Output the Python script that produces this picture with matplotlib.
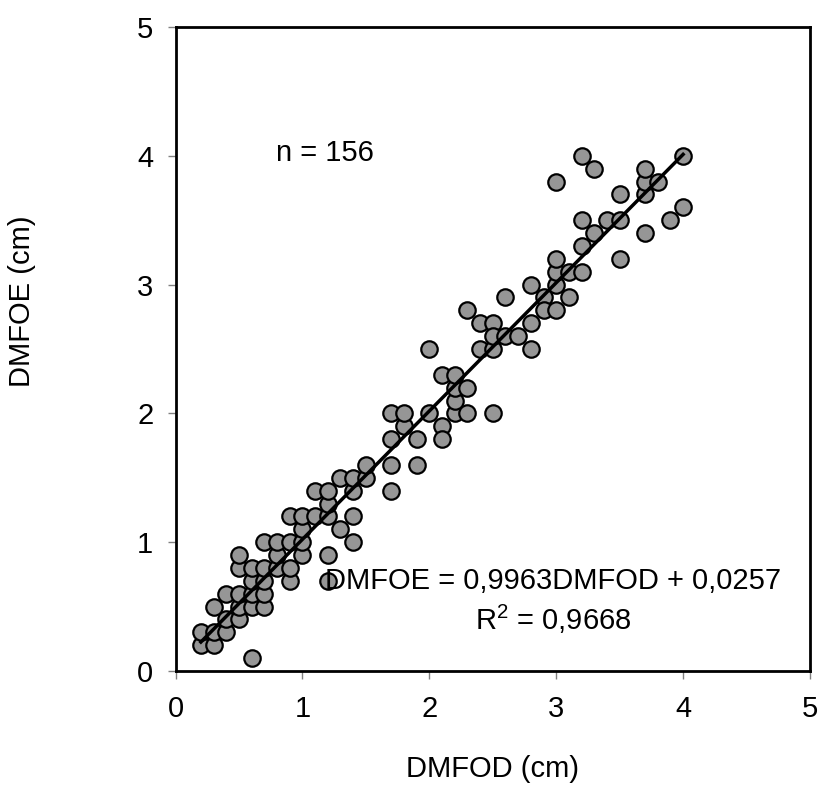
import matplotlib
matplotlib.use('Agg')
import matplotlib.pyplot as plt
import numpy as np

plt.rcParams['font.family'] = ['Liberation Sans', 'DejaVu Sans']
plt.rcParams['mathtext.fontset'] = 'custom'
plt.rcParams['mathtext.rm'] = 'Liberation Sans'

# DMFOD (x) / DMFOE (y) (overlapping points shown once)
dmfod = [0.6, 0.2, 0.3, 0.2, 0.3, 0.4, 0.4, 0.5, 0.3, 0.5, 0.6, 0.7,
         0.4, 0.5, 0.6, 0.7, 0.6, 0.7, 0.9, 1.2, 0.5, 0.6, 0.7, 0.8, 0.9,
         0.5, 0.8, 1.0, 1.2, 0.7, 0.8, 0.9, 1.0, 1.4, 1.0, 1.3,
         0.9, 1.0, 1.1, 1.2, 1.4, 1.2, 1.1, 1.2, 1.4, 1.7,
         1.3, 1.4, 1.5, 1.5, 1.7, 1.9, 1.7, 1.9, 1.8, 1.7, 1.8, 2.0, 2.1, 2.1,
         2.2, 2.3, 2.5, 2.2, 2.2, 2.3, 2.1, 2.2, 2.0,
         2.4, 2.5, 2.4, 2.5, 2.5, 2.6, 2.7, 2.8, 2.8, 2.3, 2.6, 2.8, 2.9, 2.9,
         3.0, 3.1, 3.0, 3.0, 3.0, 3.1, 3.2, 3.2, 3.3, 3.4, 3.2, 3.5, 3.5,
         3.5, 3.7, 3.7, 3.7, 3.8, 4.0, 3.0, 3.2, 3.3, 3.7, 3.9, 4.0]
dmfoe = [0.1, 0.2, 0.2, 0.3, 0.3, 0.3, 0.4, 0.4, 0.5, 0.5, 0.5, 0.5,
         0.6, 0.6, 0.6, 0.6, 0.7, 0.7, 0.7, 0.7, 0.8, 0.8, 0.8, 0.8, 0.8,
         0.9, 0.9, 0.9, 0.9, 1.0, 1.0, 1.0, 1.0, 1.0, 1.1, 1.1,
         1.2, 1.2, 1.2, 1.2, 1.2, 1.3, 1.4, 1.4, 1.4, 1.4,
         1.5, 1.5, 1.5, 1.6, 1.6, 1.6, 1.8, 1.8, 1.9, 2.0, 2.0, 2.0, 1.9, 1.8,
         2.0, 2.0, 2.0, 2.1, 2.2, 2.2, 2.3, 2.3, 2.5,
         2.5, 2.5, 2.7, 2.7, 2.6, 2.6, 2.6, 2.7, 2.5, 2.8, 2.9, 3.0, 2.9, 2.8,
         2.8, 2.9, 3.0, 3.1, 3.2, 3.1, 3.1, 3.3, 3.4, 3.5, 3.5, 3.5, 3.2,
         3.7, 3.7, 3.8, 3.9, 3.8, 4.0, 3.8, 4.0, 3.9, 3.4, 3.5, 3.6]

slope = 0.9963
intercept = 0.0257
fit_range = [0.2, 4.0]

n_label = 'n = 156'
eq_label = 'DMFOE = 0,9963DMFOD + 0,0257'
r2_label = r'$\mathregular{R^2}$ = 0,9668'


def main():
    W, H = 821, 785
    fig = plt.figure(figsize=(W / 100, H / 100), dpi=100)
    # axes box in pixels: left 175.5, right 810, top 27, bottom 671
    ax = fig.add_axes([175.5 / W, (H - 671) / H, (810 - 175.5) / W, (671 - 27) / H])

    ax.scatter(dmfod, dmfoe, s=140, facecolor='#969696', edgecolor='black',
               linewidth=1.6, zorder=2)

    fx = np.array(fit_range)
    ax.plot(fx, slope * fx + intercept, color='black', linewidth=2.5, zorder=3)

    ax.set_xlim(0, 5)
    ax.set_ylim(0, 5)
    ax.set_xticks(range(6))
    ax.set_yticks(range(6))
    for sp in ax.spines.values():
        sp.set_linewidth(2)
    ax.tick_params(axis='both', direction='out', length=6, width=1,
                   color='#808080', labelsize=21)
    ax.tick_params(axis='x', pad=11)
    ax.tick_params(axis='y', pad=10)

    ax.text(0.79, 3.96, n_label, fontsize=21, ha='left', va='baseline', zorder=4)
    ax.text(2.975, 0.637, eq_label, fontsize=21, ha='center', va='baseline', zorder=4)
    ax.text(2.975, 0.318, r2_label, fontsize=21, ha='center', va='baseline', zorder=4)

    fig.text(22.5 / W, 1 - 301 / H, 'DMFOE (cm)', rotation=90, fontsize=21,
             ha='center', va='center')
    fig.text(492 / W, 1 - 769 / H, 'DMFOD (cm)', fontsize=21,
             ha='center', va='center')

    fig.savefig('out.png', dpi=100)


if __name__ == '__main__':
    main()
